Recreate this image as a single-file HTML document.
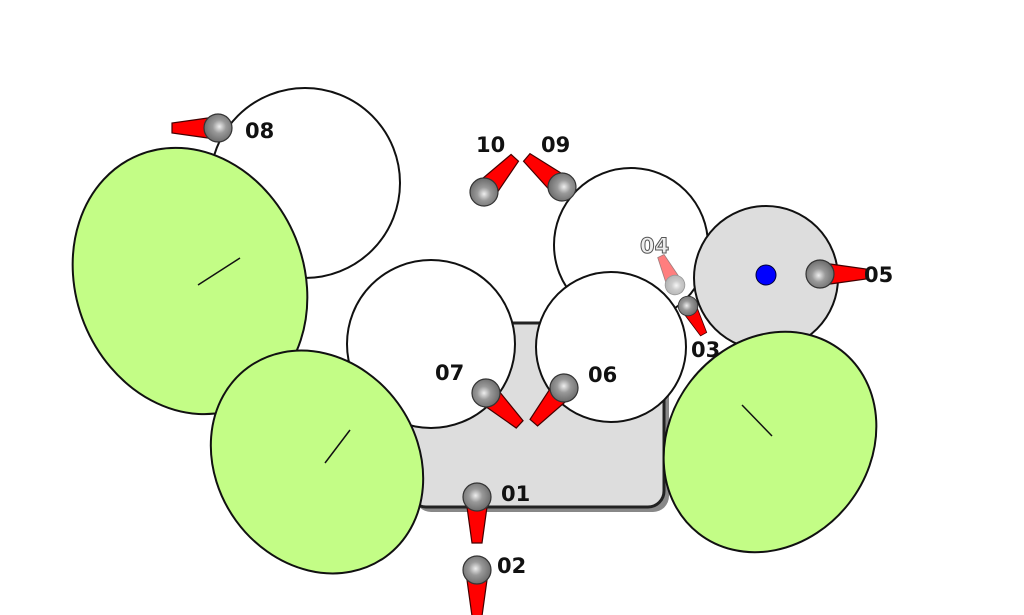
<!DOCTYPE html>
<html><head><meta charset="utf-8"><style>
html,body{margin:0;padding:0;background:#fff;width:1024px;height:615px;overflow:hidden}
text{font-family:"DejaVu Sans","Liberation Sans",sans-serif;font-weight:bold;font-size:21px;fill:#111}
</style></head><body>
<svg width="1024" height="615" viewBox="0 0 1024 615">
<defs>
<radialGradient id="hg" cx="0.45" cy="0.45" r="0.6"><stop offset="0" stop-color="#eee"/><stop offset="0.4" stop-color="#999"/><stop offset="1" stop-color="#666"/></radialGradient>
<g id="mic"><polygon points="-10,10 10,10 5,46 -5,46" fill="#f00" stroke="#400" stroke-width="1.2"/><circle r="14" fill="url(#hg)" stroke="#333" stroke-width="1.2"/></g>
</defs>
<rect x="415" y="328" width="254" height="184" rx="16" fill="#888"/>
<rect x="410" y="323" width="254" height="184" rx="16" fill="#ddd" stroke="#222" stroke-width="3"/>
<circle cx="305" cy="183" r="95" fill="#fff" stroke="#111" stroke-width="2"/>
<circle cx="631" cy="245" r="77" fill="#fff" stroke="#111" stroke-width="2"/>
<circle cx="766" cy="278" r="72" fill="#ddd" stroke="#111" stroke-width="2"/>
<circle cx="766" cy="275" r="10" fill="#00f" stroke="#003" stroke-width="1"/>
<circle cx="431" cy="344" r="84" fill="#fff" stroke="#111" stroke-width="2"/>
<circle cx="611" cy="347" r="75" fill="#fff" stroke="#111" stroke-width="2"/>
<ellipse cx="190" cy="281" rx="114" ry="136" transform="rotate(-22 190 281)" fill="#c3fd86" stroke="#111" stroke-width="2"/>
<line x1="198" y1="285" x2="240" y2="258" stroke="#111" stroke-width="1.5"/>
<ellipse cx="317" cy="462" rx="100" ry="117" transform="rotate(-36 317 462)" fill="#c3fd86" stroke="#111" stroke-width="2"/>
<line x1="325" y1="463" x2="350" y2="430" stroke="#111" stroke-width="1.5"/>
<ellipse cx="770" cy="442" rx="100" ry="116" transform="rotate(38 770 442)" fill="#c3fd86" stroke="#111" stroke-width="2"/>
<line x1="742" y1="405" x2="772" y2="436" stroke="#111" stroke-width="1.5"/>
<use href="#mic" transform="translate(477,497)"/>
<use href="#mic" transform="translate(477,570)"/>
<use href="#mic" transform="translate(218,128) rotate(90)"/>
<use href="#mic" transform="translate(820,274) rotate(-90)"/>
<use href="#mic" transform="translate(484,192) rotate(-138)"/>
<use href="#mic" transform="translate(562,187) rotate(130)"/>
<use href="#mic" transform="translate(486,393) rotate(-47)"/>
<use href="#mic" transform="translate(564,388) rotate(41)"/>
<use href="#mic" transform="translate(688,306) rotate(-29) scale(0.7)"/>
<g opacity="0.5"><use href="#mic" transform="translate(675,285) rotate(154) scale(0.7)"/></g>
<text x="245" y="138">08</text>
<text x="476" y="152">10</text>
<text x="541" y="152">09</text>
<text x="640" y="253" style="fill:#eee;stroke:#555;stroke-width:1">04</text>
<text x="864" y="282">05</text>
<text x="691" y="357">03</text>
<text x="435" y="380">07</text>
<text x="588" y="382">06</text>
<text x="501" y="501">01</text>
<text x="497" y="573">02</text>
</svg>
</body></html>
